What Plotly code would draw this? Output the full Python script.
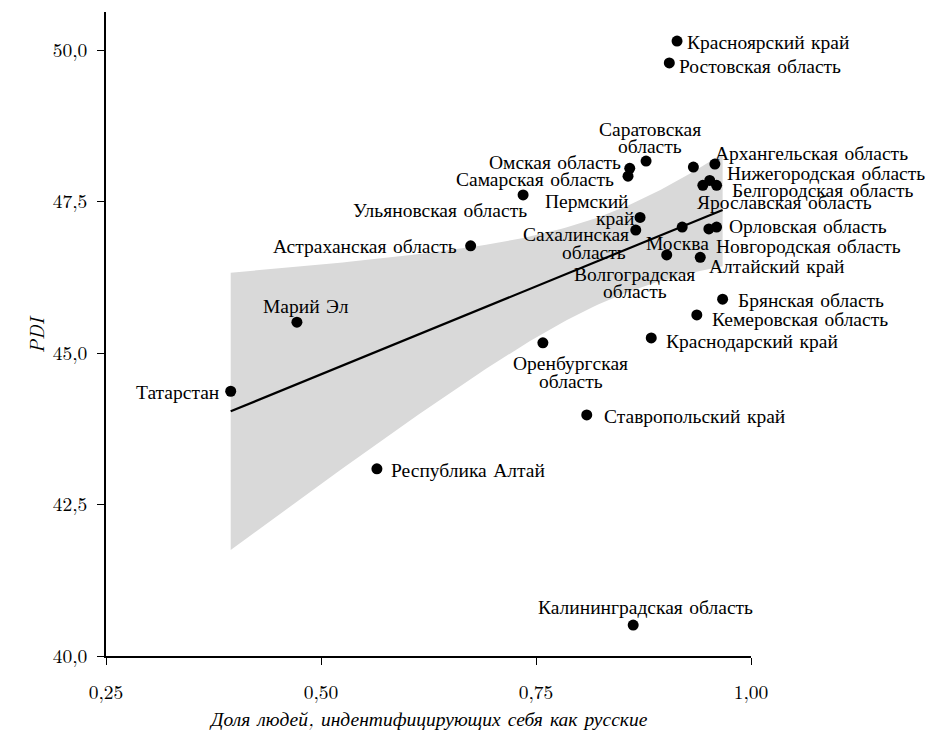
import numpy as np
import plotly.graph_objects as go

regions = ["Красноярский край", "Ростовская область", "Саратовская\nобласть", "Омская область",
           "Самарская область", "", "Архангельская область", "Нижегородская область",
           "Белгородская область", "Ярославская область", "Орловская область", "Новгородская область",
           "Алтайский край", "Москва", "Волгоградская\nобласть", "Пермский\nкрай",
           "Сахалинская\nобласть", "Ульяновская область", "Астраханская область", "Марий Эл",
           "Татарстан", "Республика Алтай", "Оренбургская\nобласть", "Ставропольский край",
           "Калининградская область", "Брянская область", "Кемеровская область", "Краснодарский край"]
share = [0.914, 0.905, 0.878, 0.859, 0.857, 0.933, 0.958, 0.952, 0.960, 0.944, 0.960, 0.951,
         0.941, 0.920, 0.902, 0.871, 0.866, 0.735, 0.674, 0.472, 0.395, 0.565, 0.758, 0.809,
         0.863, 0.967, 0.937, 0.884]
pdi = [50.15, 49.79, 48.17, 48.05, 47.92, 48.07, 48.12, 47.85, 47.77, 47.77, 47.08, 47.05,
       46.58, 47.08, 46.62, 47.24, 47.03, 47.61, 46.77, 45.51, 44.37, 43.09, 45.17, 43.98,
       40.51, 45.89, 45.63, 45.25]
x_ticks = [0.25, 0.50, 0.75, 1.00]
y_ticks = [40.0, 42.5, 45.0, 47.5, 50.0]

# label placement (style): xanchor, per-line xshifts, per-line yshifts
label_pos = [("left", [8], [0]), ("left", [8], [-2]), ("center", [4, 4], [33, 16]),
             ("right", [-7], [7]), ("right", [-12], [-2]), ("left", [0], [0]),
             ("left", [-2], [12]), ("left", [15], [8]), ("left", [13], [-4]),
             ("left", [-8], [-16]), ("left", [10], [2]), ("left", [5], [-16]),
             ("left", [7], [-8]), ("center", [-5], [-15]), ("center", [-32, -32], [-18, -35]),
             ("right", [-9, -4], [17, 0]), ("right", [-5, -8], [-3, -21]), ("right", [6], [-14]),
             ("right", [-12], [1]), ("center", [9], [17]), ("right", [-10], [0]),
             ("left", [12], [0]), ("center", [28, 28], [-19, -37]), ("left", [15], [0]),
             ("center", [12], [19]), ("left", [13], [0]), ("left", [13], [-3]),
             ("left", [13], [-2])]

x = np.array(share)
y = np.array(pdi)
n = len(x)
b1, b0 = np.polyfit(x, y, 1)
resid = y - (b0 + b1 * x)
s = np.sqrt(np.sum(resid ** 2) / (n - 2))
xs = np.linspace(x.min(), x.max(), 80)
fit = b0 + b1 * xs
se = s * np.sqrt(1 / n + (xs - x.mean()) ** 2 / np.sum((x - x.mean()) ** 2))
t = 2.052
upper = fit + t * se
lower = fit - t * se

FONT = "Latin Modern Roman"
FS = 19.5
fig = go.Figure()
fig.add_trace(go.Scatter(x=np.concatenate([xs, xs[::-1]]), y=np.concatenate([upper, lower[::-1]]),
                         fill="toself", fillcolor="#d9d9d9", line=dict(width=0), mode="lines",
                         hoverinfo="skip", showlegend=False))
fig.add_trace(go.Scatter(x=xs, y=fit, mode="lines", line=dict(color="black", width=2.2),
                         showlegend=False))
fig.add_trace(go.Scatter(x=share, y=pdi, mode="markers", marker=dict(color="black", size=11),
                         showlegend=False, cliponaxis=False))

for name, xv, yv, (xa, xsh, ysh) in zip(regions, share, pdi, label_pos):
    if not name:
        continue
    for line, dx, dy in zip(name.split("\n"), xsh, ysh):
        fig.add_annotation(x=xv, y=yv, text=line, showarrow=False, xanchor=xa, yanchor="middle",
                           xshift=dx, yshift=dy,
                           font=dict(family=FONT, size=FS, color="black"))

fig.add_annotation(xref="paper", yref="paper", x=0.5, y=-0.097, yanchor="middle",
                   text="<i>Доля людей, индентифицирующих себя как русские</i>", showarrow=False,
                   font=dict(family=FONT, size=FS, color="black"))
fig.add_annotation(xref="paper", yref="paper", x=-0.133, y=0.5, textangle=-90,
                   text="<i>PDI</i>", showarrow=False,
                   font=dict(family=FONT, size=FS, color="black"))

fig.update_layout(
    width=933, height=732, plot_bgcolor="white", paper_bgcolor="white",
    margin=dict(l=98, r=190, t=4, b=84), separators=", ",
    font=dict(family=FONT, size=FS, color="black"),
    xaxis=dict(range=[0.25, 1.0], tickvals=x_ticks, tickformat=".2f", showgrid=False,
               zeroline=False, showline=True, linecolor="black", linewidth=1.5,
               ticks="outside", ticklen=7, tickcolor="black", ticklabelstandoff=11,
               tickfont=dict(family=FONT, size=FS), automargin=False),
    yaxis=dict(range=[40.0, 50.63], tickvals=y_ticks, tickformat=".1f", showgrid=False,
               zeroline=False, showline=True, linecolor="black", linewidth=1.5,
               ticks="outside", ticklen=7, tickcolor="black", ticklabelstandoff=6,
               tickfont=dict(family=FONT, size=FS), automargin=False),
)
fig.write_html("out.html")
